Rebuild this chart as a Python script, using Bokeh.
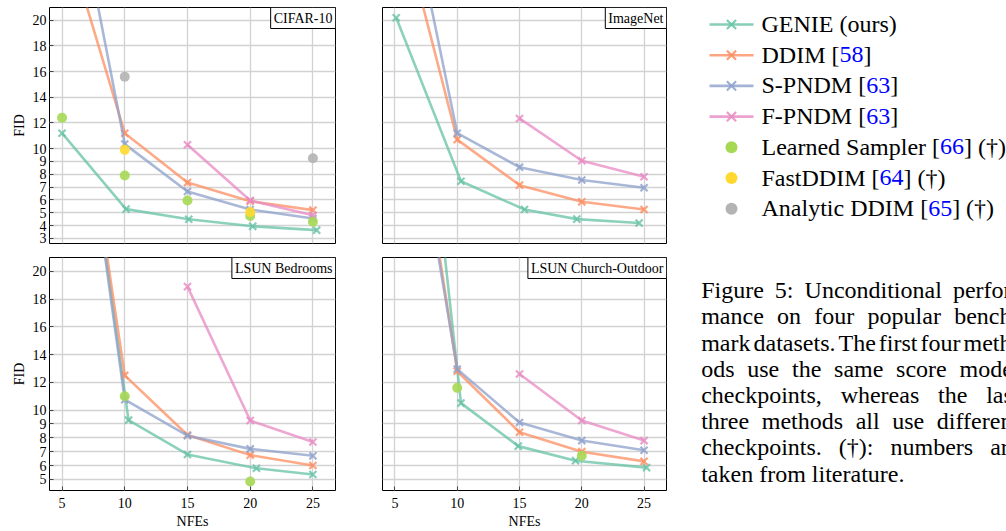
from bokeh.plotting import figure
from bokeh.models import Range1d, FixedTicker, Label
from bokeh.layouts import row, column
from bokeh.core.properties import value
from bokeh.embed import file_html
from bokeh.resources import INLINE

FONT = "Liberation Serif"

# ---------------- data ----------------
nfe = [5, 10, 15, 20, 25]
nfe_fpndm = [15, 20, 25]

# CIFAR-10
cifar_genie_x = [5, 10.1, 15.1, 20.2, 25.3]
cifar_genie = [11.2, 5.28, 4.49, 3.94, 3.64]
cifar_ddim = [27.5, 11.2, 7.35, 5.9, 5.2]
cifar_spndm = [35.5, 10.35, 6.65, 5.25, 4.55]
cifar_fpndm = [10.3, 5.95, 4.8]
cifar_learned_x = [5, 10, 15, 20, 25]
cifar_learned = [12.4, 7.9, 5.95, 4.75, 4.3]
cifar_fastddim_x = [10, 20]
cifar_fastddim = [9.9, 5.05]
cifar_analytic_x = [10, 25]
cifar_analytic = [15.6, 9.25]

# ImageNet
imnet_genie_x = [5.1, 10.3, 15.4, 19.6, 24.6]
imnet_genie = [20.2, 7.45, 5.25, 4.5, 4.2]
imnet_ddim = [29.6, 10.7, 7.15, 5.85, 5.25]
imnet_spndm = [34.8, 11.2, 8.55, 7.55, 6.95]
imnet_fpndm = [12.35, 9.05, 7.8]

# LSUN Bedrooms
bed_genie_x = [5, 10.3, 15, 20.5, 25]
bed_genie = [43.9, 9.27, 6.8, 5.8, 5.35]
bed_ddim = [42.9, 12.5, 8.2, 6.75, 6.0]
bed_spndm = [43.6, 10.75, 8.15, 7.2, 6.7]
bed_fpndm = [18.9, 9.25, 7.7]
bed_learned_x = [10, 20]
bed_learned = [11.0, 4.85]

# LSUN Church-Outdoor
church_genie_x = [5, 10.3, 14.9, 19.5, 25.2]
church_genie = [53.8, 10.5, 7.4, 6.35, 5.85]
church_ddim = [42.1, 12.8, 8.4, 7.0, 6.3]
church_spndm = [39.8, 12.95, 9.1, 7.8, 7.1]
church_fpndm = [12.6, 9.25, 7.8]
church_learned_x = [10, 20]
church_learned = [11.6, 6.7]

top_yticks = [3, 4, 5, 6, 7, 8, 9, 10, 12, 14, 16, 18, 20]
bottom_yticks = [5, 6, 7, 8, 9, 10, 12, 14, 16, 18, 20]

series_names = ["GENIE (ours)", "DDIM [", "S-PNDM [", "F-PNDM [",
                "Learned Sampler [", "FastDDIM [", "Analytic DDIM ["]
series_cites = ["", "58", "63", "63", "66", "64", "65"]
series_tails = ["", "]", "]", "]", "] (\u2020)", "] (\u2020)", "] (\u2020)"]
series_kind = ["line", "line", "line", "line", "dot", "dot", "dot"]
colors = ["#66c2a5", "#fc8d62", "#8da0cb", "#e78ac3", "#a6d854", "#ffd92f", "#b3b3b3"]

caption_lines = [
    "Figure 5: Unconditional perfor-",
    "mance on four popular bench-",
    "mark datasets. The first four meth-",
    "ods use the same score model",
    "checkpoints, whereas the last",
    "three methods all use different",
    "checkpoints. (\u2020): numbers are",
    "taken from literature.",
]

# ---------------- helpers ----------------
_W = {' ': 250, '!': 333, '(': 333, ')': 333, ',': 250, '-': 333, '.': 250, ':': 278,
      '[': 333, ']': 333, '\u2020': 500,
      'A': 722, 'B': 667, 'C': 667, 'D': 722, 'E': 611, 'F': 556, 'G': 722, 'H': 722,
      'I': 333, 'J': 389, 'K': 722, 'L': 611, 'M': 889, 'N': 722, 'O': 722, 'P': 556,
      'Q': 722, 'R': 667, 'S': 556, 'T': 611, 'U': 722, 'V': 722, 'W': 944, 'X': 722,
      'Y': 722, 'Z': 611,
      'a': 444, 'b': 500, 'c': 444, 'd': 500, 'e': 444, 'f': 333, 'g': 500, 'h': 500,
      'i': 278, 'j': 278, 'k': 500, 'l': 278, 'm': 778, 'n': 500, 'o': 500, 'p': 500,
      'q': 500, 'r': 333, 's': 389, 't': 278, 'u': 500, 'v': 500, 'w': 722, 'x': 500,
      'y': 500, 'z': 444}


def tw(s, size):
    return sum(_W.get(c, 500) for c in s) * size / 1000.0


def make_panel(title, genie_x, genie, ddim, spndm, fpndm, dots, ylo, yticks,
               left, bottom):
    p = figure(frame_width=286 if left else 284,
               frame_height=236 if not bottom else 233,
               x_range=Range1d(4, 26.8), y_range=Range1d(ylo, 21),
               output_backend="svg", toolbar_location=None,
               min_border_left=49 if left else 42, min_border_right=5,
               min_border_top=7,
               min_border_bottom=7 if not bottom else 38)
    p.background_fill_color = "white"
    p.border_fill_color = "white"
    p.outline_line_color = "black"
    p.outline_line_width = 1
    p.xaxis.ticker = FixedTicker(ticks=nfe)
    p.yaxis.ticker = FixedTicker(ticks=yticks)
    p.xgrid.ticker = FixedTicker(ticks=nfe)
    p.ygrid.ticker = FixedTicker(ticks=yticks)
    p.grid.grid_line_color = "#d2d2d2"
    p.grid.grid_line_width = 1.3
    p.axis.axis_line_color = None
    p.axis.major_tick_in = 4
    p.axis.major_tick_out = 0
    p.axis.major_tick_line_color = "#444444"
    p.axis.minor_tick_line_color = None
    p.axis.major_label_text_font = FONT
    p.axis.major_label_text_font_size = "14px"
    p.axis.major_label_text_color = "black"
    p.axis.axis_label_text_font = FONT
    p.axis.axis_label_text_font_size = "14px"
    p.axis.axis_label_text_font_style = "normal"
    p.axis.axis_label_text_color = "black"
    if left:
        p.yaxis.axis_label = "FID"
        p.yaxis.major_label_standoff = 3
        p.yaxis.axis_label_standoff = 3
    else:
        p.yaxis.visible = False
    if bottom:
        p.xaxis.axis_label = "NFEs"
        p.xaxis.major_label_standoff = 7
        p.xaxis.axis_label_standoff = 3
    else:
        p.xaxis.visible = False

    line_sets = [(genie_x, genie, colors[0]), (nfe, ddim, colors[1]),
                 (nfe, spndm, colors[2]), (nfe_fpndm, fpndm, colors[3])]
    for xs, ys, c in line_sets:
        p.line(xs, ys, line_color=c, line_width=2.6, line_alpha=0.75)
        p.scatter(xs, ys, marker="x", size=10, line_width=2.2, line_color=c,
                  line_alpha=0.8)
    for xs, ys, c in dots:
        p.scatter(xs, ys, marker="circle", size=10, fill_color=c, line_color=None,
                  fill_alpha=0.9)

    p.add_layout(Label(x=26.8, y=21, text=title, text_align="right",
                       text_baseline="top", text_font=FONT, text_font_size="14px",
                       text_color="black", border_line_color="black",
                       border_line_width=1, background_fill_color="white",
                       padding=3))
    return p


p_cifar = make_panel("CIFAR-10", cifar_genie_x, cifar_genie, cifar_ddim, cifar_spndm,
                     cifar_fpndm,
                     [(cifar_learned_x, cifar_learned, colors[4]),
                      (cifar_fastddim_x, cifar_fastddim, colors[5]),
                      (cifar_analytic_x, cifar_analytic, colors[6])],
                     2.6, top_yticks, True, False)
p_imnet = make_panel("ImageNet", imnet_genie_x, imnet_genie, imnet_ddim, imnet_spndm,
                     imnet_fpndm, [], 2.6, top_yticks, False, False)
p_bed = make_panel("LSUN Bedrooms", bed_genie_x, bed_genie, bed_ddim, bed_spndm,
                   bed_fpndm, [(bed_learned_x, bed_learned, colors[4])],
                   4.2, bottom_yticks, True, True)
p_church = make_panel("LSUN Church-Outdoor", church_genie_x, church_genie, church_ddim,
                      church_spndm, church_fpndm,
                      [(church_learned_x, church_learned, colors[4])],
                      4.2, bottom_yticks, False, True)

# ---------------- legend + caption panel ----------------
LW, LH = 335, 531
leg = figure(width=LW, height=LH, x_range=Range1d(0, LW), y_range=Range1d(LH, 0),
             output_backend="svg", toolbar_location=None, min_border=0,
             x_axis_location=None, y_axis_location=None)
leg.grid.visible = False
leg.outline_line_color = None
leg.background_fill_color = "white"
leg.border_fill_color = "white"

FS = 24
row_y = [24 + 30.7 * i for i in range(len(series_names))]
seg_x0, seg_x1, mark_x, text_x = 38, 82, 60, 90
for i, name in enumerate(series_names):
    yc = row_y[i]
    c = colors[i]
    if series_kind[i] == "line":
        leg.segment(x0=[seg_x0], y0=[yc], x1=[seg_x1], y1=[yc], line_color=c,
                    line_width=2.6, line_alpha=0.8)
        leg.scatter([mark_x], [yc], marker="x", size=13, line_width=2.2, line_color=c,
                    line_alpha=0.85)
    else:
        leg.scatter([mark_x], [yc], marker="circle", size=12, fill_color=c,
                    line_color=None)
    base = yc - 0.5
    x = text_x
    parts = [(name, "black"), (series_cites[i], "#0000ff"), (series_tails[i], "black")]
    for txt, col in parts:
        if not txt:
            continue
        leg.text(x=[x], y=[base], text=[txt], text_font=value(FONT),
                 text_font_size=f"{FS}px", text_color=col, text_baseline="alphabetic",
                 text_align="left")
        x += tw(txt, FS)

# caption (justified, running past the right edge as in the original)
cap_x0 = 29.7
cap_x1 = 348.0
cap_base0 = 289.7
cap_lead = 26.2
for li, line in enumerate(caption_lines):
    words = line.split(" ")
    widths = [tw(w, FS) for w in words]
    if li < len(caption_lines) - 1 and len(words) > 1:
        gap = (cap_x1 - cap_x0 - sum(widths)) / (len(words) - 1)
    else:
        gap = tw(" ", FS)
    xs = []
    x = cap_x0
    for w in widths:
        xs.append(x)
        x += w + gap
    ys = [cap_base0 + li * cap_lead] * len(words)
    leg.text(x=xs, y=ys, text=words, text_font=value(FONT), text_font_size=f"{FS}px",
             text_color="black", text_baseline="alphabetic", text_align="left")

layout = row(column(p_cifar, p_bed), column(p_imnet, p_church), leg)

open("out.html", "w").write(file_html(layout, INLINE))
